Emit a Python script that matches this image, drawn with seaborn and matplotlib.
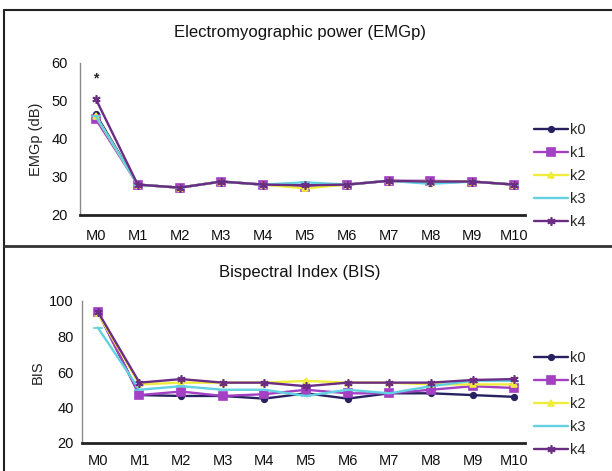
import numpy as np
import pandas as pd
import matplotlib
matplotlib.use("Agg")
import matplotlib.pyplot as plt
from matplotlib.lines import Line2D
import seaborn as sns

# Measurement moments
moments = ["M0", "M1", "M2", "M3", "M4", "M5", "M6", "M7", "M8", "M9", "M10"]
groups = ["k0", "k1", "k2", "k3", "k4"]

# Electromyographic power (dB) per group
emg_k0 = [46.5, 28.0, 27.2, 28.8, 28.0, 27.8, 28.0, 29.0, 28.5, 28.8, 28.0]
emg_k1 = [45.2, 28.0, 27.2, 28.8, 28.0, 27.5, 28.0, 29.0, 29.0, 28.8, 28.0]
emg_k2 = [46.0, 28.0, 27.2, 28.8, 28.0, 27.0, 28.0, 29.0, 28.8, 28.8, 28.0]
emg_k3 = [46.0, 28.0, 27.2, 28.8, 28.0, 28.6, 28.0, 29.0, 28.2, 28.8, 28.0]
emg_k4 = [50.5, 28.0, 27.2, 28.8, 28.0, 27.8, 28.0, 29.0, 28.8, 28.8, 28.0]

# Bispectral index per group
bis_k0 = [94, 47, 46.5, 46.5, 45, 48, 45, 48, 48, 47, 46]
bis_k1 = [94, 47, 49, 46.5, 47.5, 50, 48, 48, 50, 52, 51]
bis_k2 = [93, 53, 54, 54, 54, 55, 54, 54, 53, 53, 53]
bis_k3 = [85, 50, 52, 50, 50, 46.5, 50, 48, 52, 55, 55]
bis_k4 = [94, 54, 56, 54, 54, 52, 54, 54, 54, 55.5, 56]

# Significance mark on the first moment of the EMGp panel
emg_sig_value = 56

colors = {"k0": "#27215f", "k1": "#a340c4", "k2": "#f0ec3c",
          "k3": "#62d2e2", "k4": "#6b2d84"}
markers = {"k0": "o", "k1": "s", "k2": "^", "k3": "_", "k4": (6, 2, 0)}
msizes = {"k0": 4, "k1": 5.5, "k2": 4.5, "k3": 7, "k4": 6}


def long_frame(series):
    rows = []
    for g, vals in zip(groups, series):
        for i, v in enumerate(vals):
            rows.append({"pos": i, "value": v, "group": g})
    return pd.DataFrame(rows)


emg_df = long_frame([emg_k0, emg_k1, emg_k2, emg_k3, emg_k4])
bis_df = long_frame([bis_k0, bis_k1, bis_k2, bis_k3, bis_k4])

sns.set_theme(style="white")
plt.rcParams["font.family"] = ["Liberation Sans", "DejaVu Sans"]

W, H = 612, 471
fig = plt.figure(figsize=(W / 100, H / 100), dpi=100)
fig.patch.set_facecolor("white")


def px_axes(left, top, right, bottom):
    return fig.add_axes([left / W, 1 - bottom / H, (right - left) / W, (bottom - top) / H])


ax1 = px_axes(80, 63, 525, 215)
ax2 = px_axes(82, 301, 525, 443)


def draw_panel(ax, df, ylim, yticks, ylabel, legend_center_y, xpad, ypad, lpad):
    for g in groups:
        sub = df[df["group"] == g]
        sns.lineplot(data=sub, x="pos", y="value", color=colors[g], label=g,
                     marker=markers[g], markersize=msizes[g],
                     markeredgewidth=1.2, markeredgecolor=colors[g],
                     linewidth=1.7, ax=ax)
    ax.set_xlim(-0.38, 10.26)
    ax.set_ylim(*ylim)
    ax.set_yticks(yticks)
    ax.set_xticks(range(len(moments)))
    ax.set_xticklabels(moments)
    ax.tick_params(axis="x", labelsize=10.5, length=0, pad=xpad, colors="#111111")
    ax.tick_params(axis="y", labelsize=10.5, length=0, pad=ypad, colors="#111111")
    ax.set_xlabel("")
    ax.set_ylabel(ylabel, fontsize=10.5, color="#222222", labelpad=lpad)
    for s in ["top", "right"]:
        ax.spines[s].set_visible(False)
    ax.spines["left"].set_color("#8a8a8a")
    ax.spines["left"].set_linewidth(1.0)
    ax.spines["bottom"].set_color("#222222")
    ax.spines["bottom"].set_linewidth(2.0)
    ax.legend(loc="center left",
              bbox_to_anchor=(534 / W, 1 - legend_center_y / H),
              bbox_transform=fig.transFigure, frameon=False,
              fontsize=10.5, handlelength=2.3, handletextpad=0.15,
              labelspacing=0.62, borderpad=0, borderaxespad=0)


draw_panel(ax1, emg_df, (20, 60), [20, 30, 40, 50, 60], "EMGp (dB)", 176, 10, 9, 6)
draw_panel(ax2, bis_df, (20, 100), [20, 40, 60, 80, 100], "BIS", 404, 8, 6, 3)

# Panel titles
fig.text(300 / W, 1 - 32 / H, "Electromyographic power (EMGp)", ha="center",
         va="center", fontsize=12, color="#111111")
fig.text(300 / W, 1 - 272 / H, "Bispectral Index (BIS)", ha="center",
         va="center", fontsize=12, color="#111111")

ax1.text(0, emg_sig_value, "*", ha="center", va="center", fontsize=10,
         color="#222222", fontweight="bold")

# Panel frame lines
fig.add_artist(Line2D([4 / W, 1], [1 - 10 / H, 1 - 10 / H], color="#222222", lw=1.5))
fig.add_artist(Line2D([4 / W, 4 / W], [0, 1 - 10 / H], color="#222222", lw=1.5))
fig.add_artist(Line2D([4 / W, 1], [1 - 246 / H, 1 - 246 / H], color="#333333", lw=2.0))

fig.savefig("out.png", dpi=100, facecolor="white")
